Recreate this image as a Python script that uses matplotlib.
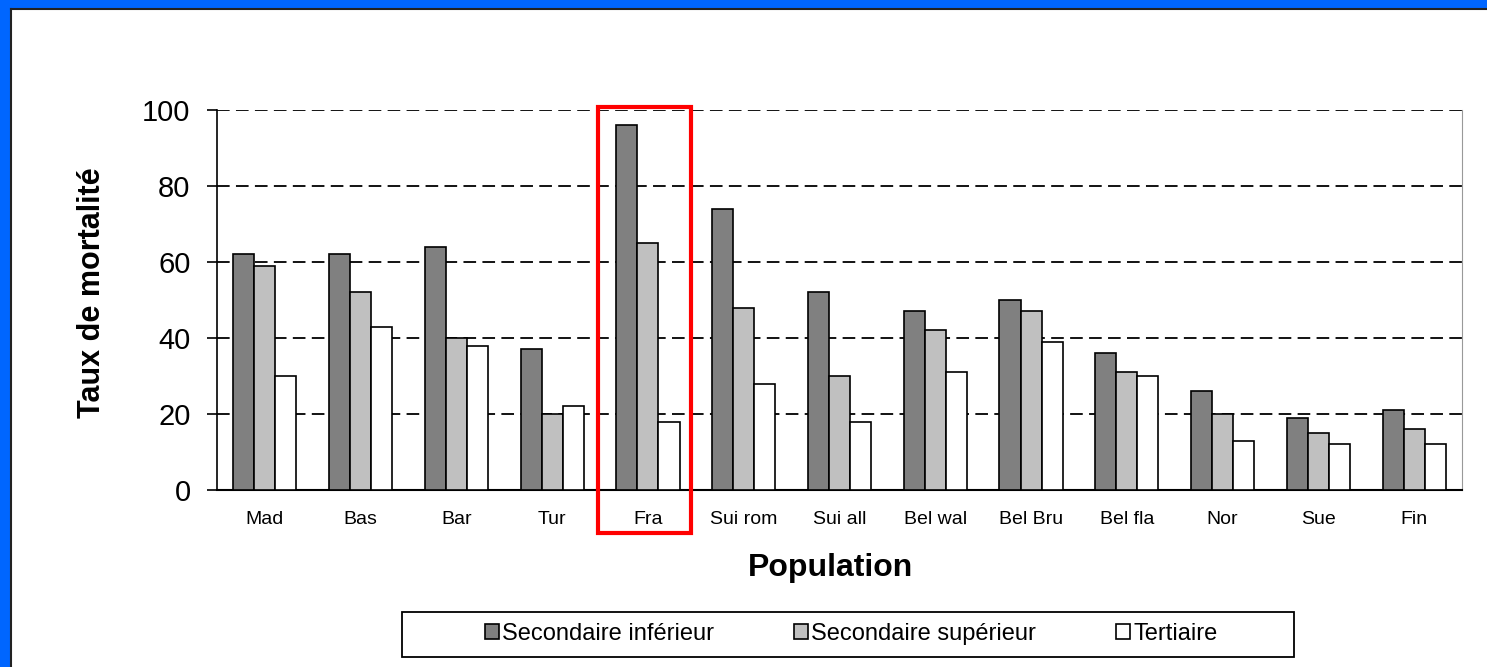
import numpy as np
import matplotlib
matplotlib.use("Agg")
import matplotlib.pyplot as plt
from matplotlib.patches import Rectangle
from matplotlib.lines import Line2D

plt.rcParams["font.family"] = ["Liberation Sans", "DejaVu Sans"]

populations = ["Mad", "Bas", "Bar", "Tur", "Fra", "Sui rom", "Sui all",
               "Bel wal", "Bel Bru", "Bel fla", "Nor", "Sue", "Fin"]
sec_inf = [62, 62, 64, 37, 96, 74, 52, 47, 50, 36, 26, 19, 21]
sec_sup = [59, 52, 40, 20, 65, 48, 30, 42, 47, 31, 20, 15, 16]
tertiaire = [30, 43, 38, 22, 18, 28, 18, 31, 39, 30, 13, 12, 12]
series_names = ["Secondaire inférieur", "Secondaire supérieur", "Tertiaire"]
series_colors = ["#808080", "#c0c0c0", "#ffffff"]
highlight = "Fra"

W, H = 1487, 667
fig = plt.figure(figsize=(W / 100, H / 100), dpi=100)

# blue frame on the left and top, thin black line inside
fig.patches.append(Rectangle((0, 0), 10 / W, 1, transform=fig.transFigure,
                             color="#0066ff", zorder=0))
fig.patches.append(Rectangle((0, 1 - 8 / H), 1, 8 / H, transform=fig.transFigure,
                             color="#0066ff", zorder=0))
fig.lines.append(Line2D([11 / W, 11 / W], [0, 1 - 9 / H], transform=fig.transFigure,
                        color="#222222", lw=1.5))
fig.lines.append(Line2D([11 / W, 1], [1 - 9 / H, 1 - 9 / H], transform=fig.transFigure,
                        color="#222222", lw=1.5))

ax = fig.add_axes([217 / W, 1 - 490 / H, (1462 - 217) / W, 380 / H])

x = np.arange(len(populations))
bw = 0.22
for i, (vals, name, col) in enumerate(zip([sec_inf, sec_sup, tertiaire],
                                          series_names, series_colors)):
    ax.bar(x + (i - 1) * bw, vals, bw, color=col, edgecolor="black",
           linewidth=1.2, label=name, zorder=3)

ax.set_xlim(-0.5, len(populations) - 0.5)
ax.set_ylim(0, 100)
ax.set_yticks([0, 20, 40, 60, 80, 100])
ax.set_xticks(x)
ax.set_xticklabels(populations, fontsize=14)
ax.tick_params(axis="y", labelsize=21, length=7, width=1.2, pad=12, direction="out")
ax.tick_params(axis="x", length=0, pad=15)
ax.yaxis.grid(True, color="black", linestyle=(0, (7, 3.5)), linewidth=1.3)
ax.set_axisbelow(True)
ax.spines["top"].set_visible(False)
ax.spines["right"].set_color("#999999")
ax.spines["left"].set_linewidth(1.2)
ax.spines["bottom"].set_linewidth(1.5)

ax.set_ylabel("Taux de mortalité", fontsize=22, fontweight="bold")
ax.yaxis.set_label_coords((92 - 217) / (1462 - 217), 0.52)
ax.set_xlabel("Population", fontsize=23, fontweight="bold")
ax.xaxis.set_label_coords((831 - 217) / (1462 - 217), -(568 - 490) / 380)
ax.xaxis.label.set_va("center")
ax.yaxis.label.set_va("center")

# red box around the highlighted population
hi = populations.index(highlight)
ax.add_patch(Rectangle((hi - 0.523, -11.3), 0.97, 112.1, fill=False,
                       edgecolor="#ff0000", linewidth=3, clip_on=False, zorder=5))

# legend with its own box
handles, labels = ax.get_legend_handles_labels()
fig.legend(handles, labels, loc="center", bbox_to_anchor=(851 / W, 1 - 634 / H),
           ncol=3, frameon=False, fontsize=17, handlelength=0.6, handleheight=0.6,
           handletextpad=0.12, columnspacing=3.4)
fig.patches.append(Rectangle((402 / W, 1 - 657 / H), 892 / W, 45 / H,
                             transform=fig.transFigure, fill=False,
                             edgecolor="black", linewidth=1.3))

fig.savefig("out.png", dpi=100)
